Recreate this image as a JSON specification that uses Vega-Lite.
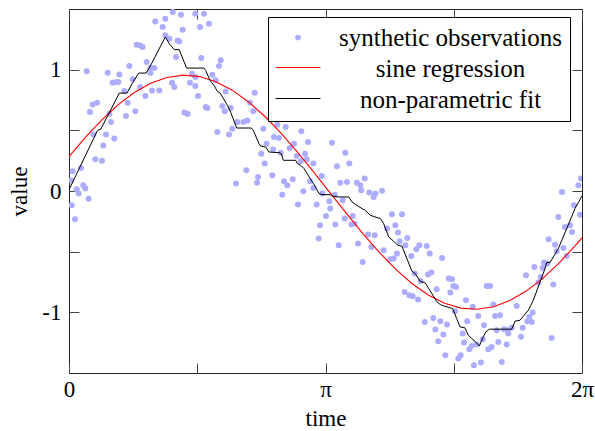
{
  "$schema": "https://vega.github.io/schema/vega-lite/v6.json",
  "width": 513,
  "height": 364,
  "autosize": {"type": "none"},
  "padding": {"left": 69, "top": 9, "right": 13, "bottom": 58},
  "background": "white",
  "datasets": {
    "obs": [
      {"t":1.27,"v":1.475},{"t":1.547,"v":1.461},{"t":1.057,"v":1.398},{"t":1.18,"v":1.42},{"t":1.372,"v":1.453},
      {"t":1.147,"v":1.351},{"t":1.392,"v":1.329},{"t":1.18,"v":1.283},{"t":1.229,"v":1.255},{"t":1.331,"v":1.241},
      {"t":1.35,"v":1.233},{"t":0.829,"v":1.206},{"t":0.87,"v":1.2},{"t":0.902,"v":1.186},{"t":0.951,"v":1.063},
      {"t":1.311,"v":1.104},{"t":0.739,"v":1.03},{"t":0.217,"v":0.986},{"t":0.474,"v":0.975},{"t":0.616,"v":0.961},
      {"t":0.996,"v":1.013},{"t":1.045,"v":1.013},{"t":0.996,"v":0.972},{"t":1.506,"v":0.967},{"t":1.547,"v":0.939},
      {"t":0.535,"v":0.893},{"t":0.576,"v":0.898},{"t":0.604,"v":0.898},{"t":0.78,"v":0.92},{"t":0.87,"v":0.857},
      {"t":1.017,"v":0.829},{"t":1.106,"v":0.829},{"t":1.262,"v":0.893},{"t":1.29,"v":0.857},{"t":1.482,"v":0.893},
      {"t":1.547,"v":0.865},{"t":0.677,"v":0.824},{"t":0.719,"v":0.728},{"t":0.935,"v":0.783},{"t":0.29,"v":0.712},
      {"t":0.343,"v":0.728},{"t":0.257,"v":0.651},{"t":0.812,"v":0.657},{"t":0.698,"v":0.618},{"t":1.412,"v":0.646},
      {"t":1.453,"v":0.634},{"t":0.494,"v":0.637},{"t":0.514,"v":0.569},{"t":0.298,"v":0.465},{"t":0.453,"v":0.465},
      {"t":0.555,"v":0.432},{"t":0.42,"v":0.376},{"t":0.322,"v":0.261},{"t":0.404,"v":0.25},{"t":0.045,"v":0.162},
      {"t":0.147,"v":0.19},{"t":0.024,"v":0.088},{"t":0.175,"v":0.047},{"t":0.094,"v":0.014},{"t":0.2,"v":0.02},
      {"t":0.119,"v":-0.021},{"t":0.241,"v":-0.063},{"t":0.033,"v":-0.118},{"t":0.073,"v":-0.233},
      {"t":1.653,"v":1.461},{"t":1.604,"v":1.351},{"t":1.715,"v":1.379},{"t":1.62,"v":1.096},{"t":1.858,"v":1.077},
      {"t":1.837,"v":1.03},{"t":1.755,"v":0.959},{"t":1.797,"v":0.912},{"t":1.919,"v":0.821},{"t":2.274,"v":0.81},
      {"t":1.58,"v":0.783},{"t":1.674,"v":0.692},{"t":1.694,"v":0.684},{"t":1.878,"v":0.7},{"t":1.98,"v":0.684},
      {"t":1.907,"v":0.657},{"t":2.217,"v":0.728},{"t":2.257,"v":0.657},{"t":2.061,"v":0.569},{"t":2.135,"v":0.569},
      {"t":2.184,"v":0.582},{"t":1.817,"v":0.486},{"t":1.96,"v":0.465},{"t":2.0,"v":0.514},{"t":2.38,"v":0.514},
      {"t":2.551,"v":0.547},{"t":2.654,"v":0.527},{"t":2.511,"v":0.445},{"t":2.572,"v":0.437},{"t":2.845,"v":0.492},
      {"t":2.421,"v":0.39},{"t":2.499,"v":0.343},{"t":2.593,"v":0.316},{"t":2.703,"v":0.354},{"t":2.756,"v":0.39},
      {"t":2.927,"v":0.404},{"t":2.355,"v":0.308},{"t":2.891,"v":0.308},{"t":2.789,"v":0.288},{"t":2.838,"v":0.245},
      {"t":2.911,"v":0.261},{"t":2.993,"v":0.226},{"t":2.397,"v":0.226},{"t":2.172,"v":0.171},{"t":2.49,"v":0.129},
      {"t":2.315,"v":0.115},{"t":2.303,"v":0.069},{"t":2.633,"v":0.08},{"t":2.74,"v":0.096},{"t":2.045,"v":0.061},
      {"t":2.674,"v":0.047},{"t":2.952,"v":0.08},{"t":3.095,"v":0.124},{"t":2.993,"v":0.025},{"t":2.612,"v":-0.03},
      {"t":2.87,"v":-0.002},{"t":2.805,"v":-0.112},{"t":3.034,"v":-0.112},{"t":3.103,"v":-0.021},{"t":3.148,"v":-0.206},
      {"t":3.074,"v":-0.283},{"t":3.058,"v":-0.392},{"t":3.221,"v":0.398},{"t":3.384,"v":0.316},{"t":3.433,"v":0.226},
      {"t":3.282,"v":0.203},{"t":3.323,"v":0.069},{"t":3.405,"v":0.074},{"t":3.527,"v":0.069},{"t":3.622,"v":0.102},
      {"t":3.568,"v":0.047},{"t":3.58,"v":0.006},{"t":3.678,"v":-0.013},{"t":3.834,"v":0.003},{"t":3.752,"v":-0.021},
      {"t":3.254,"v":-0.03},{"t":3.188,"v":-0.085},{"t":3.2,"v":-0.145},{"t":3.352,"v":-0.077},{"t":3.377,"v":-0.227},
      {"t":3.475,"v":-0.206},{"t":3.458,"v":-0.277},{"t":3.499,"v":-0.269},{"t":3.262,"v":-0.277},{"t":3.732,"v":-0.049},
      {"t":3.303,"v":-0.447},{"t":3.54,"v":-0.433},{"t":3.597,"v":-0.585},{"t":3.662,"v":-0.359},{"t":3.744,"v":-0.365},
      {"t":3.703,"v":-0.461},{"t":3.854,"v":-0.488},{"t":3.895,"v":-0.31},{"t":3.956,"v":-0.192},{"t":4.079,"v":-0.192},
      {"t":3.997,"v":-0.283},{"t":4.03,"v":-0.343},{"t":3.935,"v":-0.563},{"t":3.977,"v":-0.557},{"t":4.017,"v":-0.516},
      {"t":4.05,"v":-0.414},{"t":4.144,"v":-0.387},{"t":4.119,"v":-0.447},{"t":4.193,"v":-0.535},{"t":4.254,"v":-0.48},
      {"t":4.291,"v":-0.447},{"t":4.381,"v":-0.453},{"t":4.418,"v":-0.516},{"t":4.569,"v":-0.552},{"t":4.234,"v":-0.68},
      {"t":4.397,"v":-0.689},{"t":4.438,"v":-0.672},{"t":4.307,"v":-0.741},{"t":4.503,"v":-0.81},{"t":4.111,"v":-0.832},
      {"t":4.168,"v":-0.859},{"t":4.209,"v":-0.867},{"t":4.275,"v":-0.895},{"t":4.651,"v":-0.722},{"t":4.691,"v":-0.727},
      {"t":4.67,"v":-0.837},{"t":4.357,"v":-1.079},{"t":4.462,"v":-1.046},{"t":4.548,"v":-1.073},{"t":4.487,"v":-1.142},
      {"t":4.63,"v":-1.1},{"t":4.585,"v":-1.183},{"t":4.523,"v":-1.238},{"t":4.609,"v":-1.353},
      {"t":6.27,"v":0.102},{"t":6.238,"v":0.047},{"t":6.038,"v":-0.008},{"t":6.185,"v":-0.118},{"t":6.259,"v":-0.195},
      {"t":5.993,"v":-0.214},{"t":6.075,"v":-0.297},{"t":6.136,"v":-0.283},{"t":6.161,"v":-0.338},{"t":5.875,"v":-0.398},
      {"t":5.953,"v":-0.442},{"t":6.055,"v":-0.469},{"t":6.096,"v":-0.535},{"t":5.973,"v":-0.497},{"t":5.818,"v":-0.59},
      {"t":5.859,"v":-0.598},{"t":5.802,"v":-0.634},{"t":5.699,"v":-0.626},{"t":5.597,"v":-0.694},{"t":5.777,"v":-0.708},
      {"t":5.748,"v":-0.755},{"t":5.932,"v":-0.771},{"t":5.116,"v":-0.783},{"t":5.157,"v":-0.783},{"t":4.707,"v":-0.783},
      {"t":4.74,"v":-0.791},{"t":4.728,"v":-0.991},{"t":4.862,"v":-0.9},{"t":4.944,"v":-0.955},{"t":5.197,"v":-0.936},
      {"t":5.483,"v":-0.947},{"t":5.679,"v":-1.002},{"t":5.218,"v":-1.03},{"t":5.279,"v":-1.024},{"t":5.013,"v":-1.03},
      {"t":4.878,"v":-1.073},{"t":5.638,"v":-1.038},{"t":5.667,"v":-1.079},{"t":5.613,"v":-1.073},{"t":5.083,"v":-1.106},
      {"t":5.328,"v":-1.139},{"t":5.369,"v":-1.147},{"t":5.381,"v":-1.175},{"t":5.422,"v":-1.128},{"t":5.238,"v":-1.147},
      {"t":5.557,"v":-1.128},{"t":5.536,"v":-1.202},{"t":4.822,"v":-1.175},{"t":4.838,"v":-1.249},{"t":4.903,"v":-1.304},
      {"t":4.932,"v":-1.277},{"t":4.993,"v":-1.265},{"t":5.067,"v":-1.222},{"t":5.136,"v":-1.304},{"t":5.177,"v":-1.285},
      {"t":5.258,"v":-1.244},{"t":5.361,"v":-1.265},{"t":5.912,"v":-1.211},{"t":4.768,"v":-1.381},{"t":4.797,"v":-1.353},
      {"t":4.96,"v":-1.436},{"t":5.046,"v":-1.414},{"t":5.3,"v":-1.409}
    ],
    "sine": [
      {"t":0,"v":0.284},{"t":0.2,"v":0.442},{"t":0.4,"v":0.585},{"t":0.6,"v":0.710},{"t":0.8,"v":0.812},
      {"t":1.0,"v":0.888},{"t":1.2,"v":0.936},{"t":1.4,"v":0.955},{"t":1.6,"v":0.943},{"t":1.8,"v":0.901},
      {"t":2.0,"v":0.831},{"t":2.2,"v":0.734},{"t":2.4,"v":0.614},{"t":2.6,"v":0.474},{"t":2.8,"v":0.319},
      {"t":3.0,"v":0.154},{"t":3.2,"v":-0.017},{"t":3.4,"v":-0.187},{"t":3.6,"v":-0.351},{"t":3.8,"v":-0.505},
      {"t":4.0,"v":-0.644},{"t":4.2,"v":-0.762},{"t":4.4,"v":-0.857},{"t":4.6,"v":-0.925},{"t":4.8,"v":-0.965},
      {"t":5.0,"v":-0.975},{"t":5.2,"v":-0.954},{"t":5.4,"v":-0.903},{"t":5.6,"v":-0.825},{"t":5.8,"v":-0.722},
      {"t":6.0,"v":-0.595},{"t":6.2,"v":-0.450},{"t":6.2832,"v":-0.386}
    ],
    "fit": [
      {"t":0,"v":0.01},{"t":0.35,"v":0.5},{"t":0.39,"v":0.51},{"t":0.616,"v":0.807},{"t":0.71,"v":0.807},
      {"t":0.78,"v":0.893},{"t":0.854,"v":0.972},{"t":0.943,"v":0.972},{"t":0.983,"v":1.013},{"t":1.18,"v":1.27},
      {"t":1.228,"v":1.214},{"t":1.29,"v":1.165},{"t":1.35,"v":1.165},{"t":1.44,"v":1.013},{"t":1.653,"v":1.013},
      {"t":1.674,"v":0.994},{"t":1.727,"v":0.912},{"t":1.776,"v":0.871},{"t":1.817,"v":0.821},{"t":1.849,"v":0.81},
      {"t":1.94,"v":0.706},{"t":1.98,"v":0.65},{"t":2.054,"v":0.519},{"t":2.233,"v":0.519},{"t":2.257,"v":0.5},
      {"t":2.327,"v":0.39},{"t":2.348,"v":0.371},{"t":2.409,"v":0.362},{"t":2.45,"v":0.321},{"t":2.572,"v":0.316},
      {"t":2.6,"v":0.308},{"t":2.625,"v":0.253},{"t":2.777,"v":0.253},{"t":2.796,"v":0.226},{"t":2.838,"v":0.212},
      {"t":2.878,"v":0.185},{"t":3.02,"v":0.033},{"t":3.06,"v":-0.02},{"t":3.099,"v":-0.03},{"t":3.2,"v":-0.03},
      {"t":3.221,"v":-0.041},{"t":3.303,"v":-0.049},{"t":3.426,"v":-0.049},{"t":3.466,"v":-0.09},{"t":3.507,"v":-0.11},
      {"t":3.589,"v":-0.145},{"t":3.629,"v":-0.159},{"t":3.69,"v":-0.2},{"t":3.772,"v":-0.219},{"t":3.813,"v":-0.227},
      {"t":3.854,"v":-0.269},{"t":3.916,"v":-0.379},{"t":3.977,"v":-0.414},{"t":4.017,"v":-0.442},{"t":4.079,"v":-0.456},
      {"t":4.2,"v":-0.661},{"t":4.24,"v":-0.68},{"t":4.3,"v":-0.744},{"t":4.364,"v":-0.758},{"t":4.507,"v":-0.914},
      {"t":4.548,"v":-0.936},{"t":4.589,"v":-0.947},{"t":4.7,"v":-0.969},{"t":4.748,"v":-1.051},{"t":4.789,"v":-1.12},
      {"t":4.85,"v":-1.128},{"t":4.891,"v":-1.189},{"t":4.932,"v":-1.216},{"t":4.973,"v":-1.238},{"t":5.026,"v":-1.277},
      {"t":5.075,"v":-1.2},{"t":5.107,"v":-1.161},{"t":5.148,"v":-1.139},{"t":5.422,"v":-1.139},{"t":5.463,"v":-1.073},
      {"t":5.524,"v":-1.065},{"t":5.626,"v":-0.983},{"t":5.687,"v":-0.9},{"t":5.769,"v":-0.75},{"t":5.83,"v":-0.64},
      {"t":5.851,"v":-0.59},{"t":5.891,"v":-0.59},{"t":5.993,"v":-0.475},{"t":6.096,"v":-0.31},{"t":6.197,"v":-0.145},
      {"t":6.2832,"v":-0.04}
    ]
  },
  "layer": [
    {
      "data": {"name": "obs"},
      "mark": {"type": "point", "filled": true, "size": 36, "opacity": 1, "clip": true},
      "encoding": {
        "x": {
          "field": "t", "type": "quantitative",
          "scale": {"domain": [0, 6.283185307], "nice": false, "zero": false},
          "axis": {
            "orient": "bottom", "title": "time", "titlePadding": 6,
            "values": [0, 1.5707963, 3.1415927, 4.712389, 6.2831853],
            "labelExpr": "datum.value < 0.1 ? '0' : (abs(datum.value - PI) < 0.1 ? 'π' : (datum.value > 6 ? '2π' : ''))",
            "labelPadding": 15
          }
        },
        "y": {
          "field": "v", "type": "quantitative",
          "scale": {"domain": [-1.5, 1.5], "nice": false, "zero": false},
          "axis": {
            "orient": "left", "title": "value", "titlePadding": 10,
            "values": [-1, -0.5, 0, 0.5, 1],
            "labelExpr": "datum.value === 1 ? '1' : (datum.value === 0 ? '0' : (datum.value === -1 ? '-1' : ''))",
            "labelPadding": 18
          }
        },
        "color": {
          "datum": "synthetic observations", "type": "nominal",
          "scale": {
            "domain": ["synthetic observations", "sine regression", "non-parametric fit"],
            "range": ["#adadff", "#ff0000", "#000000"]
          },
          "legend": {
            "title": null, "orient": "none", "legendX": 199, "legendY": 8, "direction": "vertical",
            "fillColor": "#ffffff", "strokeColor": "#000000", "padding": 8,
            "labelFont": "Liberation Serif", "labelFontSize": 25, "labelColor": "#000000",
            "labelAlign": "center", "labelOffset": 140, "labelLimit": 500, "rowPadding": 5,
            "symbolOffset": 9.5, "symbolType": "M-4,0L4,0", "symbolSize": 126, "symbolOpacity": 0
          }
        }
      }
    },
    {
      "data": {"name": "sine"},
      "mark": {"type": "line", "strokeWidth": 1.1, "clip": true},
      "encoding": {
        "x": {"field": "t", "type": "quantitative",
          "axis": {"orient": "top", "title": null, "labels": false, "values": [0, 1.5707963, 3.1415927, 4.712389, 6.2831853]}},
        "y": {"field": "v", "type": "quantitative",
          "axis": {"orient": "right", "title": null, "labels": false, "values": [-1, -0.5, 0, 0.5, 1]}},
        "color": {
          "datum": "sine regression", "type": "nominal",
          "legend": {
            "title": null, "orient": "none", "legendX": 199, "legendY": 38, "direction": "vertical",
            "values": ["sine regression", "non-parametric fit"],
            "padding": 8,
            "labelFont": "Liberation Serif", "labelFontSize": 25, "labelColor": "#000000", "labelOpacity": 0,
            "labelAlign": "center", "labelOffset": 140, "labelLimit": 500, "rowPadding": 5,
            "symbolOffset": 9.5, "symbolType": "M-4,0L4,0", "symbolSize": 126, "symbolStrokeWidth": 1, "symbolOpacity": 1
          }
        }
      }
    },
    {
      "data": {"name": "fit"},
      "mark": {"type": "line", "strokeWidth": 1, "clip": true},
      "encoding": {
        "x": {"field": "t", "type": "quantitative", "axis": null},
        "y": {"field": "v", "type": "quantitative", "axis": null},
        "color": {
          "datum": "non-parametric fit", "type": "nominal",
          "legend": {
            "title": null, "orient": "none", "legendX": 199, "legendY": 8, "direction": "vertical",
            "values": ["synthetic observations"],
            "padding": 8,
            "labelFont": "Liberation Serif", "labelFontSize": 25, "labelColor": "#000000", "labelOpacity": 0,
            "labelAlign": "center", "labelOffset": 140, "labelLimit": 500, "rowPadding": 5,
            "symbolOffset": 9.5, "symbolType": "circle", "symbolSize": 10, "symbolStrokeWidth": 2.5,
            "symbolFillColor": "#adadff", "symbolOpacity": 1
          }
        }
      }
    }
  ],
  "resolve": {"axis": {"x": "independent", "y": "independent"}, "legend": {"color": "independent"}},
  "config": {
    "font": "Liberation Serif",
    "view": {"stroke": "#222222", "strokeWidth": 1},
    "axis": {
      "domain": false,
      "grid": false,
      "ticks": true,
      "tickSize": -10,
      "tickColor": "#444444",
      "tickWidth": 1,
      "labelFont": "Liberation Serif",
      "labelFontSize": 23,
      "labelColor": "#000000",
      "labelFlush": false,
      "labelOverlap": false,
      "labelBound": false,
      "titleFont": "Liberation Serif",
      "titleFontSize": 23,
      "titleFontWeight": "normal",
      "titleColor": "#000000"
    }
  }
}
